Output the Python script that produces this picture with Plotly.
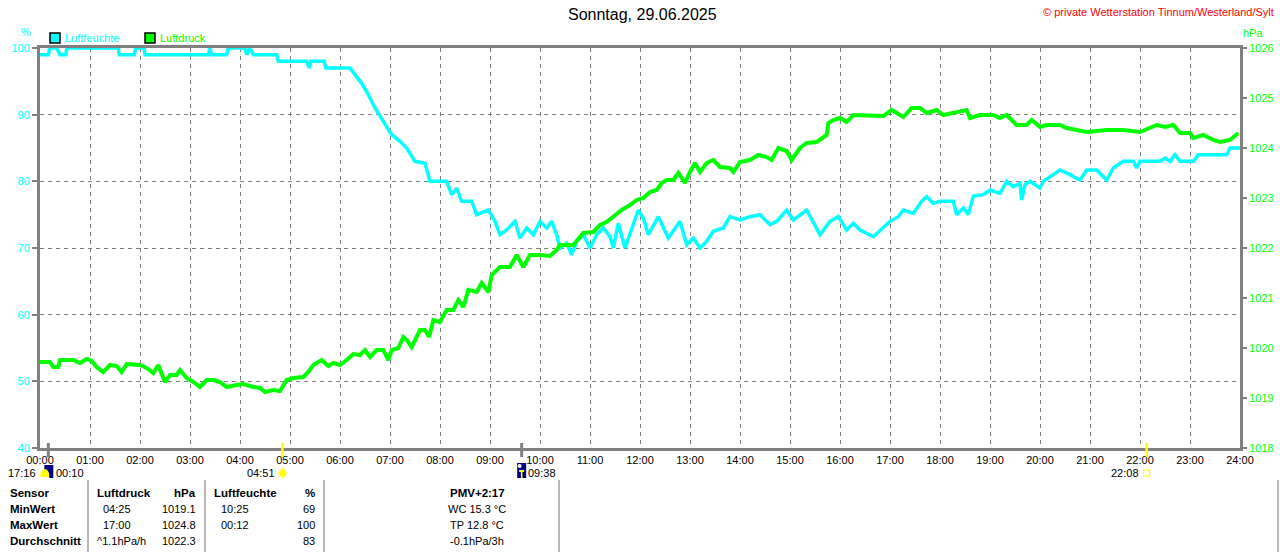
import plotly.graph_objects as go

# ---------------- data (minutes after midnight) ----------------
hum_min = [0, 10, 12, 20, 24, 31, 32, 94, 95, 113, 115, 125, 126, 202, 204, 206, 224, 226, 246, 248,
           252, 256, 284, 286, 320, 323, 325, 341, 343, 372, 378, 386, 394, 402, 412, 422, 432, 440,
           450, 462, 468, 480, 488, 494, 500, 506, 518, 524, 538, 546, 552, 560, 570, 576, 584, 592,
           600, 608, 614, 620, 624, 632, 638, 644, 652, 660, 668, 676, 684, 688, 694, 702, 710, 718,
           724, 730, 742, 754, 768, 776, 784, 792, 800, 808, 820, 828, 840, 852, 864, 876, 884, 896,
           904, 920, 936, 948, 958, 968, 976, 984, 1000, 1012, 1020, 1030, 1036, 1048, 1058, 1064,
           1072, 1080, 1096, 1100, 1108, 1114, 1120, 1132, 1140, 1152, 1160, 1168, 1176, 1178, 1182,
           1188, 1200, 1204, 1212, 1224, 1236, 1248, 1256, 1268, 1280, 1288, 1300, 1312, 1316, 1320,
           1344, 1350, 1356, 1362, 1368, 1384, 1390, 1424, 1428, 1440]
hum_val = [99, 99, 100, 100, 99, 99, 100, 100, 99, 99, 100, 100, 99, 99, 100, 99, 99, 100, 100, 99,
           100, 99, 99, 98, 98, 97, 98, 98, 97, 97, 96, 94.7, 93, 91, 89, 87, 86, 85,
           83, 82.7, 80, 80, 80, 78, 79, 77, 77, 75, 75.7, 74, 72, 72.7, 74, 71.5, 73, 72,
           74, 73, 74, 72, 70, 70.7, 69, 71, 72, 70, 72, 73, 71.7, 70, 73.7, 70, 73, 75.7,
           74.5, 72, 74.7, 71.5, 74, 70.5, 71.5, 70, 71, 72.5, 73, 74.7, 74.2, 74.7, 75, 73.5, 74, 75.7,
           74.2, 75.7, 72, 74, 74.7, 72.7, 73.7, 72.7, 71.7, 73, 74, 74.7, 75.7, 75.2, 77, 77.7,
           76.7, 77, 77, 75, 76, 75, 77.8, 78, 78.7, 78.2, 80, 79.2, 79.7, 77.2, 79.5,
           80, 79, 80, 80.7, 81.7, 81, 80.2, 81.7, 81.7, 80.2, 82, 83, 83, 82, 83,
           83, 83.5, 83, 84, 83, 83, 84, 84, 85, 85]

pres_min = [0, 12, 16, 22, 24, 40, 48, 56, 62, 68, 76, 84, 92, 98, 104, 112, 120, 128, 136, 142,
            150, 156, 164, 168, 176, 184, 192, 200, 208, 216, 224, 236, 244, 256, 264, 270, 280, 288,
            296, 304, 316, 322, 328, 338, 346, 352, 360, 368, 376, 384, 390, 396, 404, 412, 418, 422,
            430, 436, 440, 446, 456, 462, 467, 472, 480, 488, 496, 502, 508, 514, 524, 530, 538, 542,
            552, 564, 572, 580, 588, 600, 612, 620, 624, 640, 652, 664, 672, 680, 688, 698, 708, 716,
            724, 732, 740, 746, 752, 760, 766, 774, 780, 786, 792, 800, 808, 816, 828, 832, 840, 852,
            862, 872, 878, 886, 896, 902, 912, 920, 932, 944, 946, 952, 960, 968, 976, 1000, 1012,
            1022, 1036, 1046, 1056, 1064, 1076, 1084, 1096, 1112, 1116, 1128, 1144, 1152, 1160, 1172,
            1184, 1190, 1200, 1208, 1224, 1232, 1256, 1280, 1300, 1320, 1340, 1350, 1360, 1368, 1380,
            1384, 1396, 1408, 1416, 1428, 1438]
pres_val = [1019.72, 1019.72, 1019.62, 1019.62, 1019.76, 1019.76, 1019.70, 1019.78, 1019.74, 1019.62,
            1019.52, 1019.66, 1019.64, 1019.52, 1019.68, 1019.66, 1019.66, 1019.60, 1019.50, 1019.66,
            1019.32, 1019.46, 1019.46, 1019.56, 1019.40, 1019.32, 1019.22, 1019.36, 1019.36, 1019.32,
            1019.22, 1019.26, 1019.28, 1019.22, 1019.20, 1019.12, 1019.16, 1019.14,
            1019.36, 1019.40, 1019.42, 1019.52, 1019.66, 1019.76, 1019.64, 1019.70, 1019.66, 1019.76,
            1019.88, 1019.86, 1019.96, 1019.82, 1019.96, 1019.96, 1019.76, 1019.96,
            1020.00, 1020.22, 1020.16, 1020.02, 1020.36, 1020.36, 1020.22, 1020.56, 1020.52, 1020.76,
            1020.76, 1020.96, 1020.82, 1021.16, 1021.12, 1021.30, 1021.12, 1021.46,
            1021.62, 1021.62, 1021.86, 1021.62, 1021.86, 1021.86, 1021.84, 1021.96, 1022.06, 1022.06,
            1022.30, 1022.32, 1022.46, 1022.52, 1022.62, 1022.76, 1022.86, 1022.96,
            1023.00, 1023.12, 1023.16, 1023.30, 1023.36, 1023.36, 1023.50, 1023.30, 1023.52, 1023.70,
            1023.52, 1023.70, 1023.76, 1023.62, 1023.60, 1023.52, 1023.72, 1023.76,
            1023.86, 1023.82, 1023.76, 1024.00, 1023.94, 1023.76, 1024.00, 1024.10, 1024.12, 1024.26,
            1024.50, 1024.56, 1024.60, 1024.52, 1024.66, 1024.66, 1024.64,
            1024.76, 1024.62, 1024.80, 1024.80, 1024.70, 1024.76, 1024.66, 1024.70, 1024.76, 1024.60,
            1024.66, 1024.66, 1024.60, 1024.66, 1024.46,
            1024.46, 1024.56, 1024.42, 1024.46, 1024.46, 1024.40, 1024.32, 1024.36, 1024.36, 1024.32,
            1024.46, 1024.42, 1024.46, 1024.30, 1024.30,
            1024.20, 1024.26, 1024.16, 1024.12, 1024.16, 1024.30]

hour_ticks = [0, 60, 120, 180, 240, 300, 360, 420, 480, 540, 600, 660, 720, 780, 840, 900, 960,
              1020, 1080, 1140, 1200, 1260, 1320, 1380, 1440]
hour_labels = ["00:00", "01:00", "02:00", "03:00", "04:00", "05:00", "06:00", "07:00", "08:00",
               "09:00", "10:00", "11:00", "12:00", "13:00", "14:00", "15:00", "16:00", "17:00",
               "18:00", "19:00", "20:00", "21:00", "22:00", "23:00", "24:00"]
hum_ticks = [40, 50, 60, 70, 80, 90, 100]
pres_ticks = [1018, 1019, 1020, 1021, 1022, 1023, 1024, 1025, 1026]

# astronomical events (minutes)
moonset_min = 10      # 00:10
sunrise_min = 291     # 04:51
moonrise_min = 578    # 09:38
sunset_min = 1328     # 22:08

title_text = "Sonntag, 29.06.2025"
copyright_text = "© private Wetterstation Tinnum/Westerland/Sylt"

table_header = ["Sensor", "Luftdruck", "hPa", "Luftfeuchte", "%", "PMV+2:17"]
table_labels = ["MinWert", "MaxWert", "Durchschnitt"]
pres_time = ["04:25", "17:00", "^1.1hPa/h"]
pres_stat = ["1019.1", "1024.8", "1022.3"]
hum_time = ["10:25", "00:12", ""]
hum_stat = ["69", "100", "83"]
pmv_info = ["WC 15.3 °C", "TP 12.8 °C", "-0.1hPa/3h"]

# ---------------- styling ----------------
CYAN = "#00FFFF"
GREEN = "#00FF00"
GRAY = "#808080"
FONT = "Liberation Sans, Arial, sans-serif"
W, H = 1280, 552
L, R, T, B = 40, 40, 48, 104
PW, PH = W - L - R, H - T - B


def X(px):
    return (px - L) / PW


def Y(py):
    return (T + PH - py) / PH


MPX = 1440 / PW  # minutes per pixel

fig = go.Figure()
fig.add_trace(go.Scatter(x=pres_min, y=pres_val, yaxis="y2", mode="lines",
                         line=dict(color=GREEN, width=4), name="Luftdruck",
                         hoverinfo="skip"))
fig.add_trace(go.Scatter(x=hum_min, y=hum_val, mode="lines",
                         line=dict(color=CYAN, width=3.5), name="Luftfeuchte",
                         hoverinfo="skip"))

shapes = []
ann = []

# legend
shapes.append(dict(type="rect", xref="paper", yref="paper", x0=X(50), x1=X(60), y0=Y(33), y1=Y(43),
                   fillcolor=CYAN, line=dict(color="black", width=1.5), layer="above"))
shapes.append(dict(type="rect", xref="paper", yref="paper", x0=X(145), x1=X(155), y0=Y(33), y1=Y(43),
                   fillcolor=GREEN, line=dict(color="black", width=1.5), layer="above"))
ann.append(dict(text="Luftfeuchte", x=X(63), y=Y(38), xanchor="left", yanchor="middle",
                font=dict(color=CYAN, size=11)))
ann.append(dict(text="Luftdruck", x=X(158), y=Y(38), xanchor="left", yanchor="middle",
                font=dict(color=GREEN, size=11)))
ann.append(dict(text="%", x=X(26), y=Y(32), xanchor="center", yanchor="middle",
                font=dict(color=CYAN, size=11)))
ann.append(dict(text="hPa", x=X(1241), y=Y(33), xanchor="left", yanchor="middle",
                font=dict(color=GREEN, size=11)))
ann.append(dict(text=title_text, x=X(642), y=Y(15), xanchor="center", yanchor="middle",
                font=dict(color="black", size=16)))
ann.append(dict(text=copyright_text, x=X(1276), y=Y(12), xanchor="right", yanchor="middle",
                font=dict(color="red", size=11)))

# event ticks on the time axis
for m, col, w in [(moonset_min, GRAY, 3), (moonrise_min, GRAY, 3),
                  (sunrise_min, "#FFFF00", 2.5), (sunset_min, "#FFFF00", 2.5)]:
    shapes.append(dict(type="line", xref="x", yref="paper", x0=m, x1=m, y0=Y(443), y1=Y(457),
                       line=dict(color=col, width=w), layer="above"))

# moonset icon
shapes.append(dict(type="rect", xref="x", yref="paper", x0=moonset_min - 4 * MPX, x1=moonset_min + 5 * MPX,
                   y0=Y(478), y1=Y(465), fillcolor="#000080", line=dict(width=0), layer="above"))
shapes.append(dict(type="circle", xref="x", yref="paper", x0=moonset_min - 8 * MPX, x1=moonset_min + 1 * MPX,
                   y0=Y(482), y1=Y(469), fillcolor="#FFFF00", line=dict(width=0), layer="above"))
shapes.append(dict(type="rect", xref="x", yref="paper", x0=moonset_min - 8 * MPX, x1=moonset_min + 1 * MPX,
                   y0=Y(483), y1=Y(477), fillcolor="white", line=dict(width=0), layer="above"))
# moonrise icon
shapes.append(dict(type="rect", xref="x", yref="paper", x0=moonrise_min - 4.5 * MPX, x1=moonrise_min + 4.5 * MPX,
                   y0=Y(478), y1=Y(463), fillcolor="#000080", line=dict(width=0), layer="above"))
shapes.append(dict(type="circle", xref="x", yref="paper", x0=moonrise_min - 4 * MPX, x1=moonrise_min + 0 * MPX,
                   y0=Y(468), y1=Y(464), fillcolor="white", line=dict(width=0), layer="above"))
shapes.append(dict(type="rect", xref="x", yref="paper", x0=moonrise_min - 0.8 * MPX, x1=moonrise_min + 0.8 * MPX,
                   y0=Y(478), y1=Y(471), fillcolor="#FFFF00", line=dict(width=0), layer="above"))
shapes.append(dict(type="rect", xref="x", yref="paper", x0=moonrise_min - 2.5 * MPX, x1=moonrise_min + 2.5 * MPX,
                   y0=Y(472), y1=Y(470), fillcolor="#FFFF00", line=dict(width=0), layer="above"))
# sunrise icon
shapes.append(dict(type="circle", xref="x", yref="paper", x0=sunrise_min - 3.5 * MPX, x1=sunrise_min + 3.5 * MPX,
                   y0=Y(476.5), y1=Y(469.5), fillcolor="#FFFF00", line=dict(width=0), layer="above"))
for dx, dy in [(0, 5.5), (5.5, 0), (4, 4), (4, -4)]:
    shapes.append(dict(type="line", xref="x", yref="paper",
                       x0=sunrise_min - dx * MPX, x1=sunrise_min + dx * MPX,
                       y0=Y(473 - dy), y1=Y(473 + dy), line=dict(color="#FFFF00", width=1), layer="above"))
# sunset icon
shapes.append(dict(type="rect", xref="x", yref="paper", x0=sunset_min - 3 * MPX, x1=sunset_min + 3 * MPX,
                   y0=Y(476), y1=Y(470), fillcolor="white", line=dict(color="#FFFF00", width=1.2), layer="above"))

ann.append(dict(text="17:16", x=X(38), y=Y(473), xanchor="right", yanchor="middle",
                font=dict(color="black", size=11)))
ann.append(dict(text="00:10", x=X(54), y=Y(473), xanchor="left", yanchor="middle",
                font=dict(color="black", size=11)))
ann.append(dict(text="04:51", x=X(277), y=Y(473), xanchor="right", yanchor="middle",
                font=dict(color="black", size=11)))
ann.append(dict(text="09:38", x=X(526), y=Y(473), xanchor="left", yanchor="middle",
                font=dict(color="black", size=11)))
ann.append(dict(text="22:08", x=X(1141), y=Y(473), xanchor="right", yanchor="middle",
                font=dict(color="black", size=11)))

# table separators
for sx in [88, 205, 324, 559, 1278]:
    shapes.append(dict(type="line", xref="paper", yref="paper", x0=X(sx), x1=X(sx), y0=Y(480), y1=Y(552),
                       line=dict(color="#A0A0A0", width=1.5), layer="above"))

row_y = [493, 509, 525, 541]


def txt(s, px, py, anchor, b=False):
    ann.append(dict(text=("<b>%s</b>" % s) if (b and s) else s, x=X(px), y=Y(py), xanchor=anchor,
                    yanchor="middle", font=dict(color="black", size=11.5 if b else 11)))


txt(table_header[0], 8, row_y[0], "left", True)
txt(table_header[1], 95, row_y[0], "left", True)
txt(table_header[2], 198, row_y[0], "right", True)
txt(table_header[3], 212, row_y[0], "left", True)
txt(table_header[4], 317, row_y[0], "right", True)
txt(table_header[5], 477, row_y[0], "center", True)
for i in range(3):
    yy = row_y[i + 1]
    txt(table_labels[i], 8, yy, "left", True)
    txt(pres_time[i], 95 if i == 2 else 101, yy, "left")
    txt(pres_stat[i], 198, yy, "right")
    if hum_time[i]:
        txt(hum_time[i], 219, yy, "left")
    txt(hum_stat[i], 317, yy, "right")
    txt(pmv_info[i], 477, yy, "center")

for a in ann:
    a.setdefault("xref", "paper")
    a.setdefault("yref", "paper")
    a["showarrow"] = False

fig.update_layout(
    width=W, height=H,
    margin=dict(l=L, r=R, t=T, b=B, pad=0, autoexpand=False),
    paper_bgcolor="white", plot_bgcolor="white",
    font=dict(family=FONT, size=11, color="black"),
    showlegend=False,
    xaxis=dict(range=[0, 1440], tickvals=hour_ticks, ticktext=hour_labels, automargin=False,
               showgrid=True, gridcolor=GRAY, gridwidth=1, griddash="4px,4px",
               showline=True, linecolor=GRAY, linewidth=3, mirror=True,
               ticks="", tickfont=dict(size=11, color="black"), zeroline=False,
               fixedrange=True),
    yaxis=dict(range=[40, 100], tickvals=hum_ticks, automargin=False,
               showgrid=True, gridcolor=GRAY, gridwidth=1, griddash="4px,4px",
               showline=True, linecolor=GRAY, linewidth=3, mirror=True,
               ticks="outside", ticklen=5, tickwidth=2, tickcolor=GRAY,
               tickfont=dict(size=11, color=CYAN), zeroline=False, fixedrange=True),
    yaxis2=dict(range=[1018, 1026], tickvals=pres_ticks, overlaying="y", side="right",
                automargin=False,
                showgrid=False, showline=False, zeroline=False,
                ticks="outside", ticklen=6, tickwidth=2, tickcolor=GRAY,
                tickfont=dict(size=11, color=GREEN), fixedrange=True),
    shapes=shapes,
    annotations=ann,
)

css_fix = (
    "var s=document.createElement('style');"
    "s.textContent='html,body{margin:0!important;padding:0!important;overflow:hidden!important;"
    "width:1280px;height:552px;}';"
    "document.head.appendChild(s);"
)
fig.write_html("out.html", config={"displayModeBar": False}, post_script=css_fix)
